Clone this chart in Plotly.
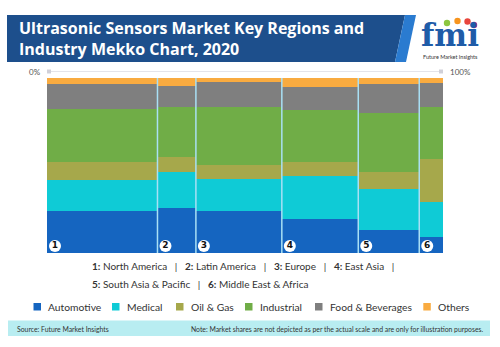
import plotly.graph_objects as go
import numpy as np

# ---------------- data ----------------
region_ids = ["1", "2", "3", "4", "5", "6"]
regions = ["North America", "Latin America", "Europe", "East Asia",
           "South Asia & Pacific", "Middle East & Africa"]
region_share = [27.9, 9.7, 21.7, 19.3, 15.4, 6.0]

industries = ["Automotive", "Medical", "Oil & Gas", "Industrial", "Food & Beverages", "Others"]
automotive = [23.8, 25.7, 23.8, 19.4, 13.3, 9.1]
medical = [18.1, 20.6, 18.7, 24.8, 23.2, 19.8]
oil_gas = [10.1, 8.8, 7.6, 7.8, 9.7, 24.8]
industrial = [30.3, 28.4, 33.5, 29.9, 33.7, 29.5]
food = [14.5, 11.8, 13.9, 12.8, 16.6, 13.9]
others = [3.2, 4.7, 2.5, 5.3, 3.5, 2.9]
series = [automotive, medical, oil_gas, industrial, food, others]
colors = ["#1565c0", "#0fcbd6", "#a6a84b", "#70ad47", "#7f7f7f", "#f9ab40"]

x_ticks = ["0%", "100%"]

# ---------------- geometry helpers ----------------
W, H = 500, 347
L, R, T, B = 47, 57, 78, 94
PW, PH = W - L - R, H - T - B

def px(x):  # pixel x -> paper
    return (x - L) / PW

def py(y):  # pixel y (from top) -> paper
    return (H - B - y) / PH

widths = np.array(region_share)
lefts = np.concatenate([[0], np.cumsum(widths)[:-1]])
centers = lefts + widths / 2

fig = go.Figure()
for name, vals, col in zip(industries, series, colors):
    fig.add_trace(go.Bar(x=centers, y=vals, width=widths, name=name,
                         marker=dict(color=col, line=dict(width=0)),
                         showlegend=False, hoverinfo="skip"))

# region number badges
badge_dx = 8 / PW * 100
badge_y = 7 / PH * 100
fig.add_trace(go.Scatter(x=lefts + badge_dx, y=[badge_y] * len(lefts),
                         mode="markers+text", text=["<b>%s</b>" % r for r in region_ids],
                         textposition="middle center",
                         textfont=dict(family="DejaVu Sans", size=9, color="#111111"),
                         marker=dict(size=12, color="white", line=dict(width=0)),
                         showlegend=False, hoverinfo="skip"))

shapes = []
# column separators
for b in np.cumsum(widths)[:-1]:
    shapes.append(dict(type="line", xref="x", yref="y", x0=b, x1=b, y0=0, y1=100,
                       line=dict(color="#a9e0f5", width=1.5)))

# top scale line with end squares
shapes.append(dict(type="line", xref="paper", yref="paper", x0=px(51), x1=px(439),
                   y0=py(71.5), y1=py(71.5), line=dict(color="#e4e4ea", width=1)))
for sx in (47, 439):
    shapes.append(dict(type="rect", xref="paper", yref="paper", x0=px(sx), x1=px(sx + 4),
                       y0=py(69.5), y1=py(73.5), fillcolor="#d0d0d8", line=dict(width=0)))

# title bar
shapes.append(dict(type="path", xref="paper", yref="paper",
                   path="M %f %f L %f %f L %f %f L %f %f Z" % (
                       px(7), py(15), px(405), py(15), px(395), py(62), px(7), py(62)),
                   fillcolor="#1d4f8c", line=dict(width=0)))
shapes.append(dict(type="path", xref="paper", yref="paper",
                   path="M %f %f L %f %f L %f %f L %f %f Z" % (
                       px(405), py(15), px(416), py(15), px(406), py(62), px(395), py(62)),
                   fillcolor="#2a7bd0", line=dict(width=0)))

# logo dots
for cx, cy, r, c in [(447, 23, 3.2, "#8cc63f"), (457.5, 21, 3.2, "#f7941d"),
                     (467.5, 21.5, 3.2, "#e8453c"), (474, 25, 3.2, "#8e3a96")]:
    shapes.append(dict(type="circle", xref="paper", yref="paper",
                       x0=px(cx - r), x1=px(cx + r), y0=py(cy + r), y1=py(cy - r),
                       fillcolor=c, line=dict(width=0)))

# footer band
shapes.append(dict(type="rect", xref="paper", yref="paper", x0=px(8), x1=px(490),
                   y0=py(336), y1=py(320.5), fillcolor="#b8edf1", line=dict(width=0)))

# legend squares
leg_sq = [33.5, 112, 176, 245, 315, 423.3]
for sx, col in zip(leg_sq, colors):
    shapes.append(dict(type="rect", xref="paper", yref="paper", x0=px(sx), x1=px(sx + 7.5),
                       y0=py(310.5), y1=py(303), fillcolor=col, line=dict(width=0)))

ann = []
body_font = "Lato"
ann.append(dict(text="Ultrasonic Sensors Market Key Regions and<br>Industry Mekko Chart, 2020",
                x=px(17), y=py(38.5), align="left",
                xref="paper", yref="paper", xanchor="left", yanchor="middle", showarrow=False,
                font=dict(family="Open Sans", size=16, color="white", weight="bold")))
# logo text
ann.append(dict(text="<b>fmi</b>", x=px(450), y=py(35), xref="paper", yref="paper",
                xanchor="center", yanchor="middle", showarrow=False,
                font=dict(family="DejaVu Serif", size=31, color="#1f5ca8")))
ann.append(dict(text="Future Market Insights", x=px(450), y=py(56.5), xref="paper", yref="paper",
                xanchor="center", yanchor="middle", showarrow=False,
                font=dict(family=body_font, size=5.5, color="#333333")))
# 0% / 100%
ann.append(dict(text=x_ticks[0], x=px(43), y=py(71.5), xref="paper", yref="paper",
                xanchor="right", yanchor="middle", showarrow=False,
                font=dict(family=body_font, size=8, color="#555555")))
ann.append(dict(text=x_ticks[1], x=px(448), y=py(71.5), xref="paper", yref="paper",
                xanchor="left", yanchor="middle", showarrow=False,
                font=dict(family=body_font, size=8, color="#555555")))

# region key
items = ["<b>%s:</b> %s" % (i, r) for i, r in zip(region_ids, regions)]
sep = "   |   "
line1 = sep.join(items[:4]) + "   |"
line2 = sep.join(items[4:])
for txt, yy in [(line1, 265.5), (line2, 284)]:
    ann.append(dict(text=txt, x=px(90), y=py(yy), xref="paper", yref="paper",
                    xanchor="left", yanchor="middle", showarrow=False,
                    font=dict(family=body_font, size=10, color="#333333")))

# legend text
for sx, name in zip(leg_sq, industries):
    ann.append(dict(text=name, x=px(sx + 12.5), y=py(307), xref="paper", yref="paper",
                    xanchor="left", yanchor="middle", showarrow=False,
                    font=dict(family=body_font, size=10.3, color="#333333")))

# footer texts
ann.append(dict(text="Source: Future Market Insights", x=px(15), y=py(328.5),
                xref="paper", yref="paper", xanchor="left", yanchor="middle", showarrow=False,
                font=dict(family=body_font, size=6.85, color="#333333")))
ann.append(dict(text="Note: Market shares are not depicted as per the actual scale and are only for illustration purposes.",
                x=px(486), y=py(328.5), xref="paper", yref="paper", xanchor="right",
                yanchor="middle", showarrow=False,
                font=dict(family=body_font, size=6.85, color="#333333")))

fig.update_layout(
    width=W, height=H, margin=dict(l=L, r=R, t=T, b=B),
    barmode="stack", bargap=0,
    paper_bgcolor="white", plot_bgcolor="white",
    xaxis=dict(range=[0, 100], visible=False, fixedrange=True),
    yaxis=dict(range=[0, 100], visible=False, fixedrange=True),
    shapes=shapes, annotations=ann, showlegend=False,
)
fig.write_html("out.html")
